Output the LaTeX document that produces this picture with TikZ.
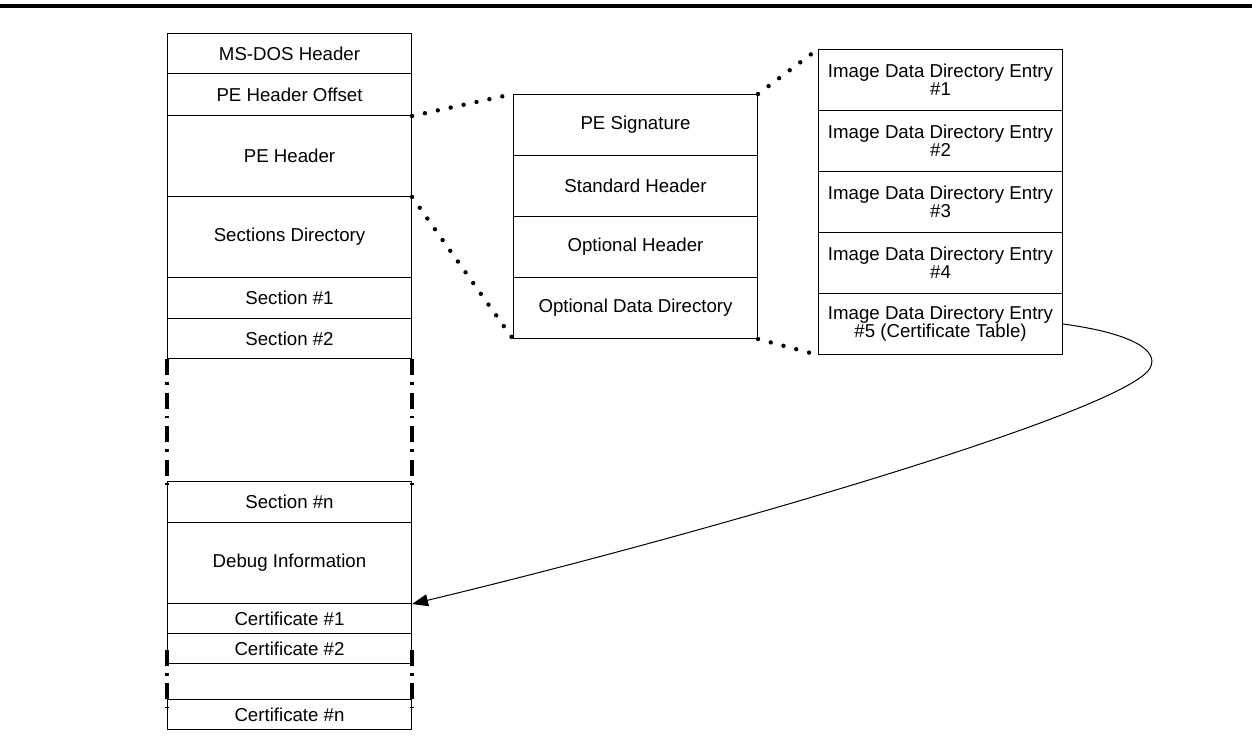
\documentclass[tikz,border=0pt]{standalone}
\usepackage{fontspec}
\setmainfont{Liberation Sans}
\usetikzlibrary{arrows.meta}
\begin{document}
\begin{tikzpicture}[x=0.75pt,y=-0.75pt,
  cell/.style={draw=black, line width=0.75pt, minimum width=183pt, minimum height=#1*0.75pt,
    inner sep=0pt, anchor=north west, align=center,
    font=\fontsize{14pt}{13.5pt}\selectfont},
  dotline/.style={line width=3.3pt, line cap=round, dash pattern=on 0pt off 9.9pt},
  dashdot/.style={line width=2.4pt, dash pattern=on 12pt off 5.4pt on 1.9pt off 5.9pt},
  link/.style={line width=0.75pt, -{Triangle[length=12pt,width=9pt]}}]
\useasboundingbox (0,0) rectangle (1252,742);
\fill[black] (0,4) rectangle (1252,8);
% left column
\node[cell=40] (msdos) at (167,33) {MS-DOS Header};
\node[cell=42] (peoff) at (167,73) {PE Header Offset};
\node[cell=81] (pehdr) at (167,115) {PE Header};
\node[cell=81] (secdir) at (167,196) {Sections Directory};
\node[cell=41] (sec1) at (167,277) {Section \#1};
\node[cell=40] (sec2) at (167,318) {Section \#2};
\node[cell=41] (secn) at (167,481) {Section \#n};
\node[cell=81] (debug) at (167,522) {Debug Information};
\node[cell=30] (cert1) at (167,603) {Certificate \#1};
\node[cell=30] (cert2) at (167,633) {Certificate \#2};
\node[cell=30] (certn) at (167,699) {Certificate \#n};
% gaps
\draw[dashdot] (sec2.south west) -- ([yshift=-3pt]secn.north west);
\draw[dashdot] (sec2.south east) -- ([yshift=-3pt]secn.north east);
\draw[dashdot] ([yshift=-1pt]cert2.west) -- ([yshift=-6pt]certn.north west);
\draw[dashdot] ([yshift=-1pt]cert2.east) -- ([yshift=-6pt]certn.north east);
% middle
\node[cell=61] (pesig) at (513,94) {PE Signature};
\node[cell=61] (stdh) at (513,155) {Standard Header};
\node[cell=61] (opth) at (513,216) {Optional Header};
\node[cell=61] (odd) at (513,277) {Optional Data Directory};
% right column
\node[cell=61] (img1) at (818,49) {Image Data Directory Entry\\\#1};
\node[cell=61] (img2) at (818,110) {Image Data Directory Entry\\\#2};
\node[cell=61] (img3) at (818,171) {Image Data Directory Entry\\\#3};
\node[cell=61] (img4) at (818,232) {Image Data Directory Entry\\\#4};
\node[cell=61] (img5) at (818,293) {Image Data Directory Entry\\\#5 (Certificate Table)};
% dotted expansion lines
\draw[dotline] (peoff.south east) -- (pesig.north west);
\draw[dotline] (pehdr.south east) -- (odd.south west);
\draw[dotline] (pesig.north east) -- (img1.north west);
\draw[dotline] (odd.south east) -- (img5.south west);
% pointer
\draw[link] (img5.east) .. controls (1130,333) and (1160,350) .. (1150,368)
  .. controls (1128,410) and (712,532) .. (debug.south east);
\end{tikzpicture}
\end{document}
